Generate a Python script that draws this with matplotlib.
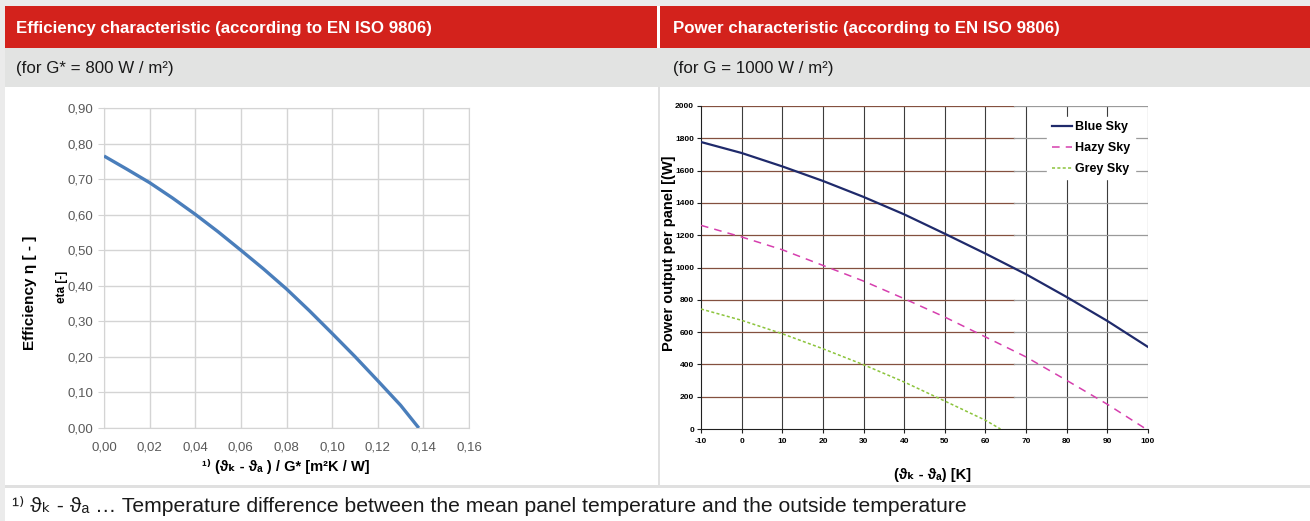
import matplotlib
matplotlib.use("Agg")
import matplotlib.pyplot as plt
from matplotlib.patches import Rectangle
from matplotlib.ticker import FuncFormatter

plt.rcParams["axes.unicode_minus"] = False

# --------------------------------------------------------------
# Data
# --------------------------------------------------------------
# efficiency curve, (dT)/G* vs eta
eff_x = [0.0, 0.01, 0.02, 0.03, 0.04, 0.05, 0.06, 0.07, 0.08, 0.09, 0.10, 0.11, 0.12, 0.13, 0.138]
eff_y = [0.765, 0.728, 0.690, 0.647, 0.601, 0.552, 0.500, 0.447, 0.391, 0.330, 0.266, 0.201, 0.133, 0.064, 0.0]

# power curves, temperature difference [K] vs power [W]
dT = [-10, 0, 10, 20, 30, 40, 50, 60, 70, 80, 90, 100]
blue_sky = [1777, 1709, 1626, 1536, 1437, 1329, 1209, 1086, 958, 817, 669, 508]
hazy_x = [-10, 0, 10, 20, 30, 40, 50, 60, 70, 80, 90, 99.5]
hazy_sky = [1261, 1189, 1110, 1013, 916, 807, 693, 570, 446, 301, 153, 0]
grey_x = [-10, 0, 10, 20, 30, 40, 50, 60, 63.7]
grey_sky = [743, 673, 590, 497, 398, 291, 173, 54, 0]

eff_xticks = [0.0, 0.02, 0.04, 0.06, 0.08, 0.10, 0.12, 0.14, 0.16]
eff_yticks = [0.0, 0.1, 0.2, 0.3, 0.4, 0.5, 0.6, 0.7, 0.8, 0.9]
pow_xticks = [-10, 0, 10, 20, 30, 40, 50, 60, 70, 80, 90, 100]
pow_yticks = [0, 200, 400, 600, 800, 1000, 1200, 1400, 1600, 1800, 2000]

# --------------------------------------------------------------
# Figure in pixel units
# --------------------------------------------------------------
W, H = 1310, 521
fig = plt.figure(figsize=(W / 100, H / 100), dpi=100)
fig.patch.set_facecolor("white")

RED = "#d3221c"
SUB = "#e2e3e2"
EDGE = "#ebebeb"
SANS = ["Liberation Sans", "DejaVu Sans"]


def box(x, y, w, h, color):
    # x, y = top-left corner in pixels
    fig.add_artist(Rectangle((x / W, 1 - (y + h) / H), w / W, h / H,
                             transform=fig.transFigure, facecolor=color,
                             edgecolor="none", zorder=0))


def txt(x, y, s, **kw):
    fig.text(x / W, 1 - y / H, s, **kw)


def axes_px(x0, y0, x1, y1):
    return fig.add_axes([x0 / W, 1 - y1 / H, (x1 - x0) / W, (y1 - y0) / H])


# frame / header rows
box(0, 0, W, 6, EDGE)
box(0, 0, 5, H, EDGE)
box(5, 6, 652, 42, RED)
box(660, 6, 650, 42, RED)
box(5, 48, 1305, 39, SUB)
box(658, 87, 2, 398, "#e0e0e0")
box(5, 485, 1305, 3, "#e0e0e0")

txt(16, 28, "Efficiency characteristic (according to EN ISO 9806)",
    color="white", fontsize=12.2, fontweight="bold", family=SANS, va="center")
txt(673, 28, "Power characteristic (according to EN ISO 9806)",
    color="white", fontsize=12.2, fontweight="bold", family=SANS, va="center")
txt(16, 69, "(for G* = 800 W / m²)", color="#1a1a1a", fontsize=12.2,
    family=SANS, va="center")
txt(673, 69, "(for G = 1000 W / m²)", color="#1a1a1a", fontsize=12.2,
    family=SANS, va="center")
txt(12, 506, "¹⁾ ϑₖ - ϑₐ … Temperature difference between the mean panel temperature and the outside temperature",
    color="#1a1a1a", fontsize=15.2, family=SANS, va="center")

# --------------------------------------------------------------
# Left: efficiency characteristic
# --------------------------------------------------------------
ax1 = axes_px(104, 108, 469, 428)
ax1.plot(eff_x, eff_y, color="#4a7ebb", lw=2.4, solid_capstyle="butt", zorder=3)
ax1.set_xlim(0, 0.16)
ax1.set_ylim(0, 0.9)
ax1.set_xticks(eff_xticks)
ax1.set_yticks(eff_yticks)
comma = FuncFormatter(lambda v, p: f"{v:.2f}".replace(".", ","))
ax1.xaxis.set_major_formatter(comma)
ax1.yaxis.set_major_formatter(comma)
ax1.grid(True, color="#d4d4d4", lw=1)
for s in ax1.spines.values():
    s.set_color("#d4d4d4")
ax1.tick_params(axis="both", colors="#d4d4d4", labelcolor="#595959",
                labelsize=9.5, length=4)
ax1.tick_params(axis="x", length=0, pad=10)
for lab in ax1.get_xticklabels() + ax1.get_yticklabels():
    lab.set_family(SANS)
ax1.set_axisbelow(True)

txt(62, 287, "eta [-]", rotation=90, fontsize=8.5, fontweight="bold",
    family=SANS, ha="center", va="center")
txt(30, 293, "Efficiency η [ - ]", rotation=90, fontsize=11, fontweight="bold",
    family=SANS, ha="center", va="center")
txt(286, 466, "¹⁾ (ϑₖ - ϑₐ ) / G* [m²K / W]", fontsize=10.5, fontweight="bold",
    family=SANS, ha="center", va="center")

# --------------------------------------------------------------
# Right: power characteristic
# --------------------------------------------------------------
ax2 = axes_px(701, 106, 1148, 429)
ax2.set_xlim(-10, 100)
ax2.set_ylim(0, 2000)
ax2.set_xticks(pow_xticks)
ax2.set_yticks(pow_yticks)
for xv in pow_xticks[1:]:
    ax2.axvline(xv, color="#3c3c3c", lw=0.8, zorder=1)
split = (67 + 10) / 110
for yv in pow_yticks[1:]:
    ax2.axhline(yv, xmin=0, xmax=split, color="#84503f", lw=0.9, zorder=1)
    ax2.axhline(yv, xmin=split, xmax=1, color="#9a9a9a", lw=0.9, zorder=1)

ax2.plot(dT, blue_sky, color="#1f2a6b", lw=1.6, label="Blue Sky", zorder=3)
ax2.plot(hazy_x, hazy_sky, color="#d63fae", lw=1.1, ls=(0, (5, 4)),
         label="Hazy Sky", zorder=3)
ax2.plot(grey_x, grey_sky, color="#8cc43c", lw=1.1, ls=(0, (2, 1.5)),
         label="Grey Sky", zorder=3)

for side in ("left", "bottom"):
    ax2.spines[side].set_color("#202020")
ax2.spines["top"].set_visible(False)
ax2.spines["right"].set_visible(False)
ax2.tick_params(axis="both", length=3, labelsize=6, color="#202020")
ax2.tick_params(axis="y", pad=2)
for lab in ax2.get_xticklabels() + ax2.get_yticklabels():
    lab.set_family(SANS)
    lab.set_fontweight("bold")

leg = ax2.legend(loc="upper right", bbox_to_anchor=(0.985, 0.985), frameon=True,
                 fancybox=False, handlelength=1.6, handletextpad=0.3,
                 labelspacing=0.7, borderpad=0.35,
                 prop={"family": SANS, "weight": "bold", "size": 9})
leg.get_frame().set_facecolor("white")
leg.get_frame().set_edgecolor("white")
leg.get_frame().set_alpha(1)

txt(669, 253, "Power output per panel [(W]", rotation=90, fontsize=10.5,
    fontweight="bold", family=SANS, ha="center", va="center")
txt(933, 475, "(ϑₖ - ϑₐ) [K]", fontsize=10.5, fontweight="bold",
    family=SANS, ha="center", va="center")

fig.savefig("out.png", dpi=100)
